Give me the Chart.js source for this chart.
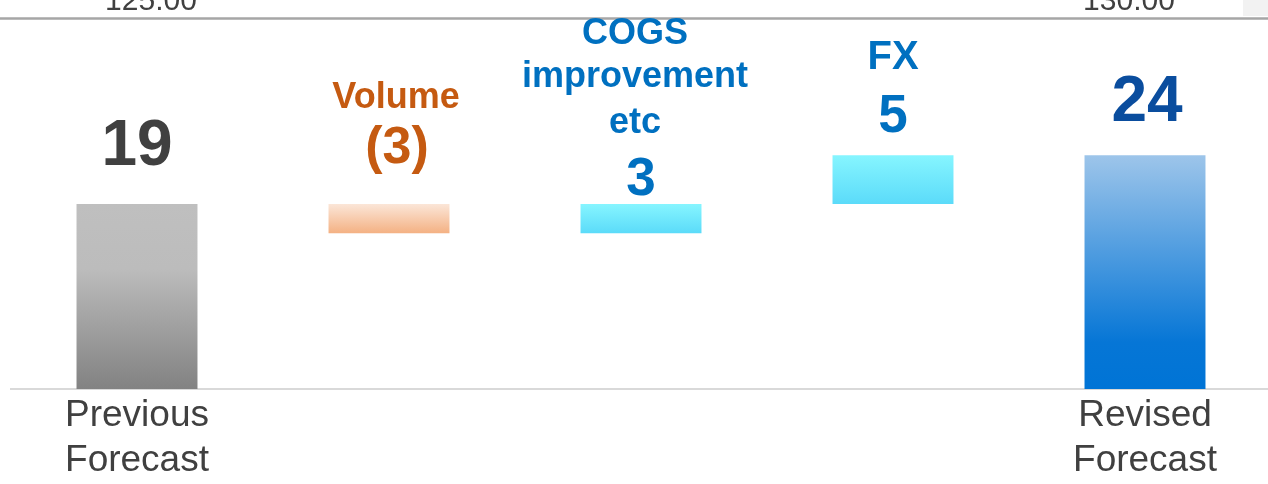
<!DOCTYPE html>
<html>
<head>
<meta charset="utf-8">
<script src="https://cdn.jsdelivr.net/npm/chart.js@4.4.1/dist/chart.umd.min.js"></script>
<style>
    html, body { margin: 0; padding: 0; background: #ffffff; overflow: hidden; }
    #wrap { width: 1272px; height: 484px; }
</style>
</head>
<body>
<div id="wrap"><canvas id="chartBridge" width="1272" height="484"></canvas></div>
<script>
// dados do gráfico (waterfall)
const categories = [['Previous', 'Forecast'], '', '', '', ['Revised', 'Forecast']];
const steps = [19, -3, 3, 5, 24];
const stepTypes = ['total', 'delta', 'delta', 'delta', 'total'];
const labelTexts = [['19'], ['Volume', '(3)'], ['COGS', 'improvement', 'etc', '3'], ['FX', '5'], ['24']];
const topNotes = ['125.00', '130.00'];

// montar as faixas flutuantes a partir dos passos
let running = 0;
const ranges = steps.map((v, i) => {
    if (stepTypes[i] === 'total') {
        running = v;
        return [0, v];
    }
    const start = running;
    running += v;
    return [start, running];
});

// estilos
const barStops = [
    [[0, '#bfbfbf'], [0.35, '#bcbcbc'], [1, '#828282']],
    [[0, '#fbe6d8'], [1, '#f4b183']],
    [[0, '#86f5ff'], [1, '#5bdbf9']],
    [[0, '#86f5ff'], [1, '#5bdbf9']],
    [[0, '#9dc5ea'], [0.8, '#0676d6'], [1, '#0074d6']]
];
const labelColors = ['#404040', '#c55a11', '#0070c0', '#0070c0', '#0a4d9e'];
// [tamanho, deslocamento x, deslocamento y em relação ao topo da barra]
const labelStyles = [
    [[64, 0, -39]],
    [[36, 7, -96], [52, 8, -41]],
    [[36, -6, -160], [36, -6, -117], [36, -6, -71], [53, 0, -9]],
    [[40, 0, -86], [53, 0, -23]],
    [[64, 2, -34]]
];
const notePos = [[0, 14], [4, -16]];

const labelPlugin = {
    id: 'labelPlugin',
    beforeDraw(chart) {
        const c = chart.ctx;
        c.save();
        c.fillStyle = '#f2f2f2';
        c.fillRect(1243, 0, 40, 16);
        c.strokeStyle = '#a6a6a6';
        c.lineWidth = 2.5;
        c.beginPath();
        c.moveTo(0, 18.5);
        c.lineTo(chart.width, 18.5);
        c.stroke();
        c.fillStyle = '#404040';
        c.font = '30px "Liberation Sans", Arial, sans-serif';
        c.textAlign = 'center';
        c.textBaseline = 'alphabetic';
        topNotes.forEach((t, i) => {
            const x = chart.scales.x.getPixelForValue(notePos[i][0]) + notePos[i][1];
            c.fillText(t, x, 10);
        });
        c.restore();
    },
    afterDatasetsDraw(chart) {
        const c = chart.ctx;
        const meta = chart.getDatasetMeta(0);
        c.save();
        c.textAlign = 'center';
        c.textBaseline = 'alphabetic';
        meta.data.forEach((bar, i) => {
            const top = Math.min(bar.y, bar.base);
            c.fillStyle = labelColors[i];
            labelTexts[i].forEach((txt, j) => {
                const s = labelStyles[i][j];
                c.font = 'bold ' + s[0] + 'px "Liberation Sans", Arial, sans-serif';
                c.fillText(txt, bar.x + s[1], top + s[2]);
            });
        });
        c.restore();
    }
};

const ctx = document.getElementById('chartBridge').getContext('2d');
new Chart(ctx, {
    type: 'bar',
    data: {
        labels: categories,
        datasets: [{
            data: ranges,
            backgroundColor: function (context) {
                const chart = context.chart;
                const stops = barStops[context.dataIndex] || barStops[0];
                if (!chart.chartArea || context.type !== 'data') return stops[0][1];
                const r = ranges[context.dataIndex];
                const y = chart.scales.y;
                const top = y.getPixelForValue(Math.max(r[0], r[1]));
                const bottom = y.getPixelForValue(Math.min(r[0], r[1]));
                const g = chart.ctx.createLinearGradient(0, top, 0, bottom);
                stops.forEach(s => g.addColorStop(s[0], s[1]));
                return g;
            },
            borderWidth: 0,
            borderSkipped: false,
            categoryPercentage: 1,
            barPercentage: 0.48
        }]
    },
    options: {
        responsive: false,
        animation: false,
        devicePixelRatio: 1,
        layout: { padding: { left: 11, right: 1, top: 18, bottom: 0 } },
        plugins: {
            legend: { display: false },
            tooltip: { enabled: false }
        },
        scales: {
            x: {
                afterFit(scale) { scale.height = 95; },
                grid: { display: false, drawTicks: false },
                border: { display: true, color: '#d9d9d9', width: 2 },
                ticks: {
                    color: '#404040',
                    padding: 4,
                    maxRotation: 0,
                    autoSkip: false,
                    font: { family: '"Liberation Sans", Arial, sans-serif', size: 37, lineHeight: 1.22 }
                }
            },
            y: {
                display: false,
                min: 0,
                max: 38.1
            }
        }
    },
    plugins: [labelPlugin]
});
</script>
</body>
</html>
